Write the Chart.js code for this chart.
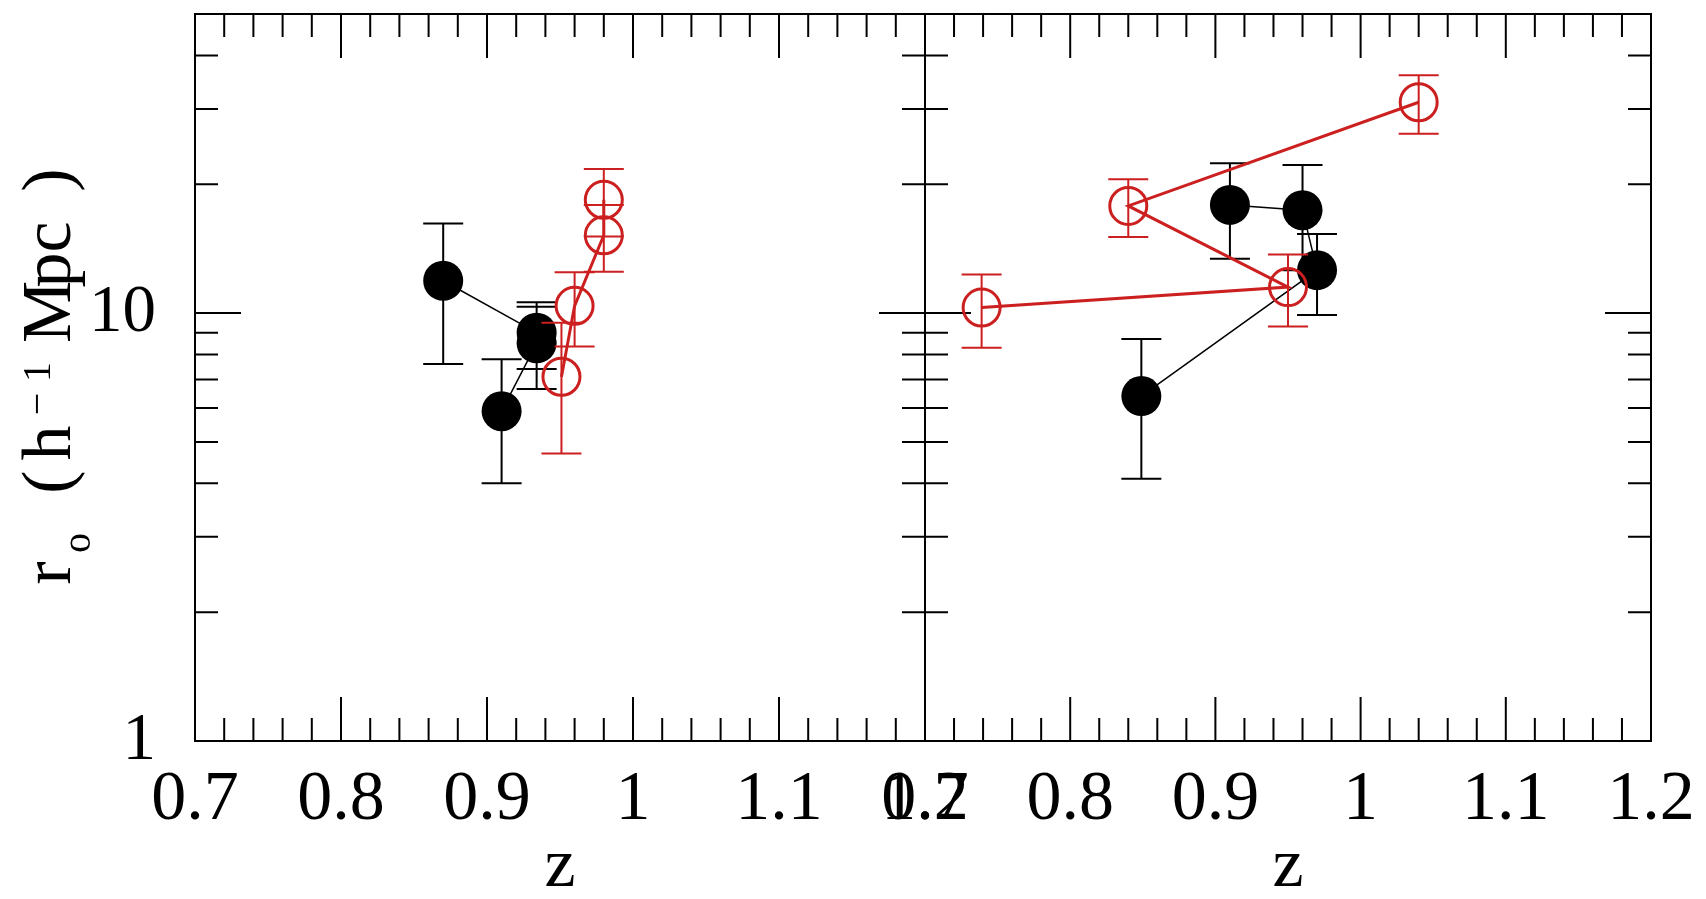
<!DOCTYPE html>
<html>
<head>
<meta charset="utf-8">
<title>r0 versus z</title>
<script src="https://cdn.jsdelivr.net/npm/chart.js@4.4.1/dist/chart.umd.min.js"></script>
<style>
  html, body { margin: 0; background: #fff; }
  #plots { position: relative; width: 1706px; height: 899px; }
  #plots canvas { position: absolute; left: 0; top: 0; }
</style>
</head>
<body>
<div id="plots">
  <canvas id="leftPanel" width="1706" height="899"></canvas>
  <canvas id="rightPanel" width="1706" height="899"></canvas>
</div>
<script>
// left panel: redshift, correlation length and its error
const leftBlackZ = [0.870, 0.934, 0.934, 0.910];
const leftBlackR = [11.9, 9.0, 8.5, 5.9];
const leftBlackErr = [4.3, 1.6, 1.85, 1.9];
const leftRedZ = [0.980, 0.980, 0.960, 0.951];
const leftRedR = [18.4, 15.2, 10.4, 7.1];
const leftRedErr = [3.3, 2.7, 2.05, 2.4];

// right panel
const rightBlackZ = [0.910, 0.960, 0.970, 0.849];
const rightBlackR = [17.9, 17.4, 12.6, 6.4];
const rightBlackErr = [4.5, 4.8, 2.7, 2.3];
const rightRedZ = [0.739, 0.950, 0.840, 1.040];
const rightRedR = [10.3, 11.5, 17.8, 31.1];
const rightRedErr = [2.0, 2.2, 2.75, 4.85];

// axes
const zRange = [0.7, 1.2];
const zTickLabels = [0.7, 0.8, 0.9, 1.0, 1.1, 1.2];
const rRange = [1, 50];
const rTickLabels = [1, 10];
const rMinorTicks = [2, 3, 4, 5, 6, 7, 8, 9, 20, 30, 40];
const rMajorTicks = [10];

const RED = '#cc1f1f';
const SERIF = "'Liberation Serif', 'DejaVu Serif', serif";

const toPoints = (zs, rs) => zs.map((z, i) => ({ x: z, y: rs[i] }));

// vertical error bars with caps, drawn under each dataset's markers
const errorBars = {
    id: 'errorBars',
    beforeDatasetDraw(chart, args) {
        const ds = chart.data.datasets[args.index];
        if (!ds.errors) return;
        const { ctx, scales: { x, y } } = chart;
        ctx.save();
        ctx.strokeStyle = ds.borderColor;
        ctx.lineWidth = 2;
        ctx.beginPath();
        ds.data.forEach((p, i) => {
            const px = x.getPixelForValue(p.x);
            const hi = y.getPixelForValue(p.y + ds.errors[i]);
            const lo = y.getPixelForValue(p.y - ds.errors[i]);
            ctx.moveTo(px, hi); ctx.lineTo(px, lo);
            ctx.moveTo(px - 20, hi); ctx.lineTo(px + 20, hi);
            ctx.moveTo(px - 20, lo); ctx.lineTo(px + 20, lo);
        });
        ctx.stroke();
        ctx.restore();
    }
};

// box frame with inward ticks on all four sides
const frameTicks = {
    id: 'frameTicks',
    beforeDatasetsDraw(chart) {
        const { ctx, chartArea: a, scales: { x, y } } = chart;
        ctx.save();
        ctx.strokeStyle = '#000';
        ctx.lineWidth = 2;
        ctx.strokeRect(a.left, a.top, a.right - a.left, a.bottom - a.top);
        ctx.beginPath();
        // z ticks every 0.02, long ones every 0.1
        for (let i = 1; i < 25; i++) {
            const px = x.getPixelForValue(zRange[0] + i * 0.02);
            const len = i % 5 === 0 ? 44 : 23;
            ctx.moveTo(px, a.bottom); ctx.lineTo(px, a.bottom - len);
            ctx.moveTo(px, a.top); ctx.lineTo(px, a.top + len);
        }
        const yTick = (v, len) => {
            const py = y.getPixelForValue(v);
            ctx.moveTo(a.left, py); ctx.lineTo(a.left + len, py);
            ctx.moveTo(a.right, py); ctx.lineTo(a.right - len, py);
        };
        rMinorTicks.forEach(v => yTick(v, 23));
        rMajorTicks.forEach(v => yTick(v, 46));
        ctx.stroke();
        ctx.restore();
    }
};

// rotated axis title  r_o (h^-1 Mpc), written piece by piece for the sub/superscripts
const yTitleParts = [
    { text: 'r', at: 573, size: 70, shift: 0 },
    { text: 'o', at: 543, size: 40, shift: 20 },
    { text: '(', at: 482, size: 70, shift: 0 },
    { text: 'h', at: 443, size: 70, shift: 0 },
    { text: '\u2212', at: 404, size: 40, shift: -20 },
    { text: '1', at: 372, size: 40, shift: -20 },
    { text: 'M', at: 312, size: 70, shift: 0 },
    { text: 'p', at: 270, size: 70, shift: 0 },
    { text: 'c', at: 237, size: 70, shift: 0 },
    { text: ')', at: 180, size: 70, shift: 0 }
];

const yTitle = {
    id: 'yTitle',
    afterDraw(chart) {
        const ctx = chart.ctx;
        ctx.save();
        ctx.translate(70, 0);
        ctx.rotate(-Math.PI / 2);
        ctx.fillStyle = '#000';
        ctx.textAlign = 'center';
        ctx.textBaseline = 'alphabetic';
        yTitleParts.forEach(p => {
            ctx.font = `${p.size}px ${SERIF}`;
            ctx.fillText(p.text, -p.at, p.shift);
        });
        ctx.restore();
    }
};

function buildPanel(canvasId, s, isLeft) {
    return new Chart(document.getElementById(canvasId), {
        type: 'scatter',
        data: {
            datasets: [
                {
                    data: toPoints(s.redZ, s.redR),
                    errors: s.redErr,
                    showLine: true,
                    borderColor: RED,
                    borderWidth: 3,
                    pointRadius: 18.5,
                    pointBorderWidth: 3,
                    pointBorderColor: RED,
                    pointBackgroundColor: 'rgba(0,0,0,0)',
                    order: 0
                },
                {
                    data: toPoints(s.blackZ, s.blackR),
                    errors: s.blackErr,
                    showLine: true,
                    borderColor: '#000',
                    borderWidth: 1.5,
                    pointRadius: 20,
                    pointBorderWidth: 0,
                    pointBackgroundColor: '#000',
                    order: 1
                }
            ]
        },
        options: {
            responsive: false,
            animation: false,
            devicePixelRatio: 1,
            events: [],
            layout: {
                autoPadding: false,
                padding: { top: 14, bottom: 0, left: 0, right: isLeft ? 781 : 55 }
            },
            plugins: { legend: { display: false }, tooltip: { enabled: false } },
            scales: {
                x: {
                    type: 'linear',
                    min: zRange[0],
                    max: zRange[1],
                    grid: { display: false, drawTicks: false },
                    border: { display: false },
                    afterBuildTicks: sc => { sc.ticks = zTickLabels.map(v => ({ value: v })); },
                    afterFit: sc => {
                        sc.height = 158;
                        sc.paddingLeft = 0;
                        sc.paddingRight = 0;
                    },
                    ticks: {
                        autoSkip: false,
                        maxRotation: 0,
                        minRotation: 0,
                        padding: 18,
                        color: '#000',
                        font: { family: SERIF, size: 70 },
                        callback: v => String(+v.toFixed(1))
                    },
                    title: {
                        display: true,
                        text: 'z',
                        color: '#000',
                        padding: 0,
                        font: { family: SERIF, size: 70, lineHeight: 0.9 }
                    }
                },
                y: {
                    type: 'logarithmic',
                    min: rRange[0],
                    max: rRange[1],
                    grid: { display: false, drawTicks: false },
                    border: { display: false },
                    afterBuildTicks: sc => { sc.ticks = rTickLabels.map(v => ({ value: v })); },
                    afterFit: sc => {
                        sc.width = isLeft ? 195 : 925;
                        sc.paddingTop = 0;
                        sc.paddingBottom = 0;
                    },
                    ticks: {
                        display: isLeft,
                        padding: 39,
                        color: '#000',
                        font: { family: SERIF, size: 67 },
                        callback: v => String(v)
                    }
                }
            }
        },
        plugins: isLeft ? [frameTicks, errorBars, yTitle] : [frameTicks, errorBars]
    });
}

buildPanel('leftPanel', {
    blackZ: leftBlackZ, blackR: leftBlackR, blackErr: leftBlackErr,
    redZ: leftRedZ, redR: leftRedR, redErr: leftRedErr
}, true);

buildPanel('rightPanel', {
    blackZ: rightBlackZ, blackR: rightBlackR, blackErr: rightBlackErr,
    redZ: rightRedZ, redR: rightRedR, redErr: rightRedErr
}, false);
</script>
</body>
</html>
